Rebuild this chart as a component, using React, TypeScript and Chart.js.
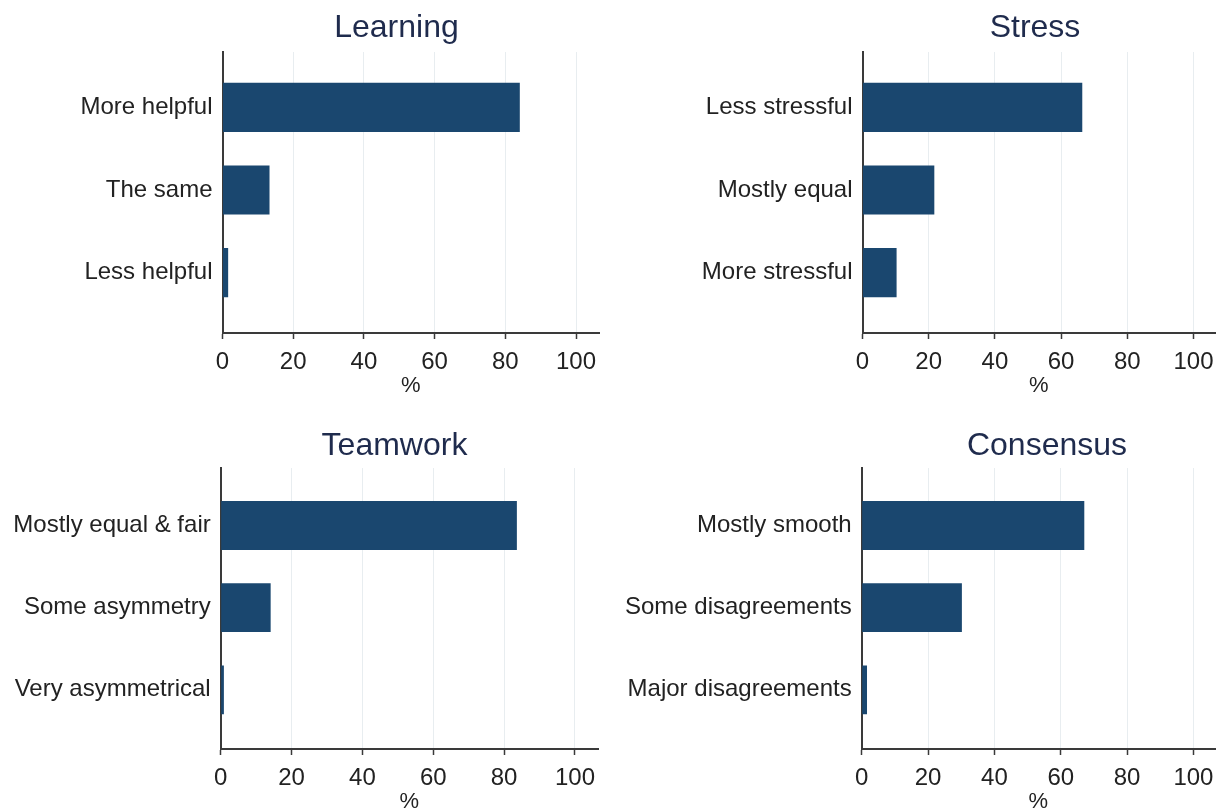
import React, { useEffect, useRef } from "react";
import { Chart, registerables } from "chart.js";

Chart.register(...registerables);

// ---- data ----
const learningLabels = ["More helpful", "The same", "Less helpful"];
const learningValues = [84.1, 13.3, 1.6];

const stressLabels = ["Less stressful", "Mostly equal", "More stressful"];
const stressValues = [66.4, 21.7, 10.3];

const teamworkLabels = ["Mostly equal & fair", "Some asymmetry", "Very asymmetrical"];
const teamworkValues = [83.6, 14.1, 0.9];

const consensusLabels = ["Mostly smooth", "Some disagreements", "Major disagreements"];
const consensusValues = [67.1, 30.2, 1.6];

const xTickValues = [0, 20, 40, 60, 80, 100];
const xAxisTitle = "%";

// ---- styling / layout ----
const FONT = '"Liberation Sans", Arial, sans-serif';
const BAR_COLOR = "#1a476f";
const AXIS_COLOR = "#3a3a3a";
const GRID_COLOR = "#e8edf0";
const TEXT_COLOR = "#222222";
const TITLE_COLOR = "#1f2b4d";
const CANVAS_H = 416;

type PanelSpec = {
  title: string;
  labels: string[];
  values: number[];
  left: number;
  top: number;
  width: number;
  yWidth: number;
  padRight: number;
  titleX: number;
  titleY: number;
  yMin: number;
  yMax: number;
};

const panels: PanelSpec[] = [
  { title: "Learning", labels: learningLabels, values: learningValues, left: 0, top: 0, width: 611, yWidth: 222.5, padRight: 12, titleX: 396.5, titleY: 37, yMin: 0.33, yMax: 3.73 },
  { title: "Stress", labels: stressLabels, values: stressValues, left: 611, top: 0, width: 612, yWidth: 251.5, padRight: 8, titleX: 424, titleY: 37, yMin: 0.33, yMax: 3.73 },
  { title: "Teamwork", labels: teamworkLabels, values: teamworkValues, left: 0, top: 416, width: 611, yWidth: 220.7, padRight: 13, titleX: 394.5, titleY: 39, yMin: 0.3, yMax: 3.72 },
  { title: "Consensus", labels: consensusLabels, values: consensusValues, left: 611, top: 416, width: 612, yWidth: 250.7, padRight: 8, titleX: 436, titleY: 39, yMin: 0.3, yMax: 3.72 },
];

const panelTitlePlugin = {
  id: "panelTitle",
  afterDraw(chart: any, _args: any, opts: any) {
    const { ctx } = chart;
    ctx.save();
    ctx.font = `${opts.size}px ${FONT}`;
    ctx.fillStyle = opts.color;
    ctx.textAlign = "center";
    ctx.textBaseline = "alphabetic";
    ctx.fillText(opts.text, opts.x, opts.y);
    ctx.restore();
  },
};

function Panel({ spec }: { spec: PanelSpec }) {
  const ref = useRef<HTMLCanvasElement | null>(null);

  useEffect(() => {
    if (!ref.current) return;
    const chart = new Chart(ref.current, {
      type: "bar",
      data: {
        datasets: [
          {
            label: spec.title,
            data: spec.values.map((v, i) => ({ x: v, y: i + 1 })),
            backgroundColor: BAR_COLOR,
            borderWidth: 0,
            barPercentage: 0.594,
            categoryPercentage: 1,
          },
        ],
      },
      options: {
        indexAxis: "y",
        responsive: false,
        animation: false,
        layout: { padding: { left: 0, right: spec.padRight, top: 52, bottom: 0 } },
        plugins: {
          legend: { display: false },
          tooltip: { enabled: false },
          title: { display: false },
          panelTitle: { text: spec.title, x: spec.titleX, y: spec.titleY, size: 32, color: TITLE_COLOR },
        } as any,
        scales: {
          x: {
            type: "linear",
            position: "bottom",
            min: 0,
            max: 106.5,
            afterBuildTicks: (s: any) => {
              s.ticks = xTickValues.map((v) => ({ value: v }));
            },
            afterFit: (s: any) => {
              s.height = 83;
            },
            ticks: {
              autoSkip: false,
              maxRotation: 0,
              padding: 9,
              color: TEXT_COLOR,
              font: { family: FONT, size: 24 },
            },
            grid: {
              color: GRID_COLOR,
              lineWidth: 1,
              drawTicks: true,
              tickLength: 6,
              tickColor: AXIS_COLOR,
              tickWidth: 1.5,
            },
            border: { display: true, color: AXIS_COLOR, width: 2 },
            title: {
              display: true,
              text: xAxisTitle,
              color: TEXT_COLOR,
              font: { family: FONT, size: 22 },
              padding: { top: 0, bottom: 17 },
            },
          },
          y: {
            type: "linear",
            position: "left",
            reverse: true,
            offset: false,
            min: spec.yMin,
            max: spec.yMax,
            afterBuildTicks: (s: any) => {
              s.ticks = spec.labels.map((_, i) => ({ value: i + 1 }));
            },
            afterFit: (s: any) => {
              s.width = spec.yWidth;
            },
            ticks: {
              autoSkip: false,
              padding: 10,
              color: TEXT_COLOR,
              font: { family: FONT, size: 24 },
              callback: (v: any) => spec.labels[Math.round(Number(v)) - 1] ?? "",
            },
            grid: { display: false, drawTicks: false, offset: false },
            border: { display: true, color: AXIS_COLOR, width: 2 },
          },
        },
      } as any,
      plugins: [panelTitlePlugin],
    });
    return () => chart.destroy();
  }, [spec]);

  return (
    <canvas
      ref={ref}
      width={spec.width}
      height={CANVAS_H}
      style={{ position: "absolute", left: spec.left, top: spec.top, width: spec.width, height: CANVAS_H }}
    />
  );
}

export default function App() {
  return (
    <div
      style={{
        position: "fixed",
        left: 0,
        top: 0,
        width: 1223,
        height: 809,
        overflow: "hidden",
        background: "#ffffff",
      }}
    >
      {panels.map((p) => (
        <Panel key={p.title} spec={p} />
      ))}
    </div>
  );
}
